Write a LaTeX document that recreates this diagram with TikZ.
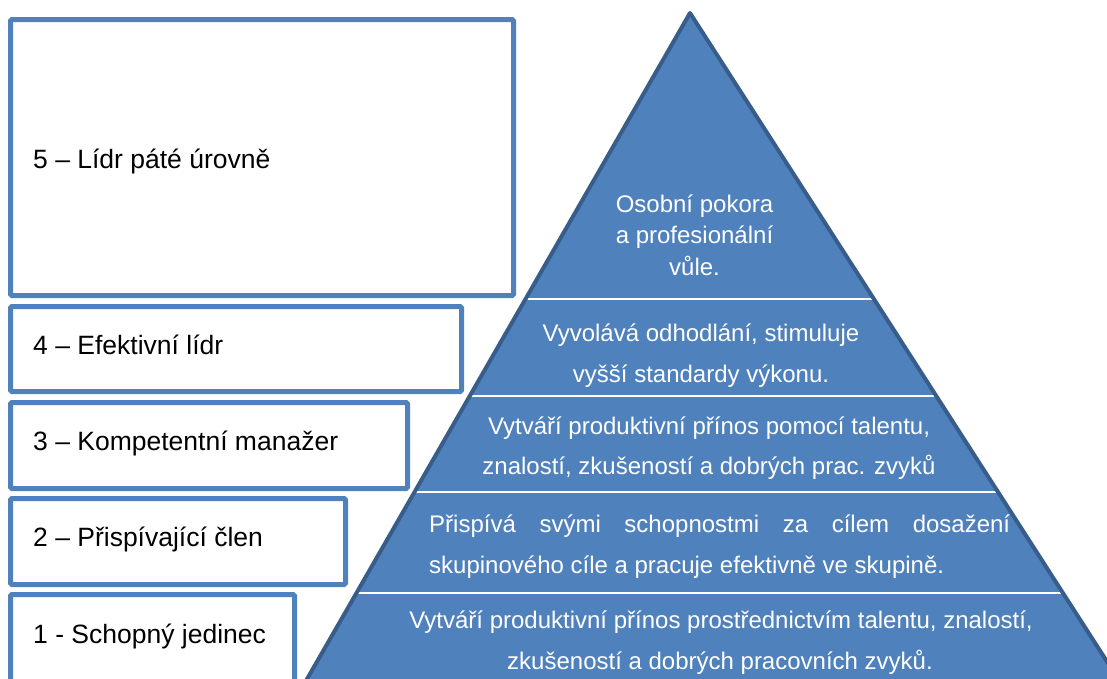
\documentclass[tikz,border=0pt]{standalone}
\usepackage{fontspec}
\setmainfont{Liberation Sans}
\definecolor{boxblue}{HTML}{4F81BD}
\definecolor{pyrblue}{HTML}{4F81BD}
\definecolor{pyrdark}{HTML}{385D8A}
\begin{document}
\begin{tikzpicture}[x=1pt,y=-1pt,
  lvlbox/.style={draw=boxblue, line width=5pt, rounded corners=1.5pt, fill=white},
  lvltext/.style={anchor=base west, inner sep=0pt, font=\fontsize{26.5}{30}\selectfont},
  bandtext/.style={anchor=base, inner sep=0pt, text=white, font=\fontsize{24}{28}\selectfont},
  bandtextl/.style={bandtext, anchor=base west},
  bandline/.style={draw=white, line width=2pt}]
\useasboundingbox (0,0) rectangle (1107,678);
\clip (0,0) rectangle (1107,678);

% pyramid body
\coordinate (apex) at (690,13);
\coordinate (bl) at (300.7,690);
\coordinate (br) at (1125.3,690);
\fill[pyrblue] (apex) -- (br) -- (bl) -- cycle;

% separators between the levels
\coordinate (s4l) at (525.5,299);   \coordinate (s4r) at (874,299);
\coordinate (s3l) at (470.1,395.5); \coordinate (s3r) at (936,395.5);
\coordinate (s2l) at (414.9,491.5); \coordinate (s2r) at (997.7,491.5);
\coordinate (s1l) at (356.5,593);   \coordinate (s1r) at (1063,593);
\draw[bandline] (s4l) -- (s4r);
\draw[bandline] (s3l) -- (s3r);
\draw[bandline] (s2l) -- (s2r);
\draw[bandline] (s1l) -- (s1r);

% pyramid outline
\draw[pyrdark, line width=4pt, line join=round] (bl) -- (apex) -- (br);

% level boxes on the left
\draw[lvlbox] (10.5,19.5) rectangle (513.5,295.5);
\draw[lvlbox] (10.5,306.5) rectangle (461.5,391.5);
\draw[lvlbox] (10.5,402.5) rectangle (407.5,488.5);
\draw[lvlbox] (10.5,498.5) rectangle (345.5,584.5);
\draw[lvlbox] (10.5,594.5) rectangle (294.5,700);

\node[lvltext] (l5) at (33,168) {5 – Lídr páté úrovně};
\node[lvltext] (l4) at (33,354) {4 – Efektivní lídr};
\node[lvltext] (l3) at (33,450) {3 – Kompetentní manažer};
\node[lvltext] (l2) at (33,546) {2 – Přispívající člen};
\node[lvltext] (l1) at (33,643) {1 - Schopný jedinec};

% texts inside the pyramid
\node[bandtext] (p5a) at (694.5,212) {Osobní pokora};
\node[bandtext] (p5b) at (694.5,243.5) {a profesionální};
\node[bandtext] (p5c) at (694.5,275) {vůle.};

\node[bandtext] (p4a) at (701,341) {Vyvolává odhodlání, stimuluje};
\node[bandtext] (p4b) at (701,382) {vyšší standardy výkonu.};

\node[bandtext] (p3a) at (709,434) {Vytváří produktivní přínos pomocí talentu,};
\node[bandtext] (p3b) at (709,474) {znalostí, zkušeností a dobrých prac. zvyků};

\node[bandtextl] (p2a) at (429,532) {\hbox to 581pt{Přispívá\hfil svými\hfil schopnostmi\hfil za\hfil cílem\hfil dosažení}};
\node[bandtextl] (p2b) at (429,573) {skupinového cíle a pracuje efektivně ve skupině.};

\node[bandtext] (p1a) at (721,628) {Vytváří produktivní přínos prostřednictvím talentu, znalostí,};
\node[bandtext] (p1b) at (720,669) {zkušeností a dobrých pracovních zvyků.};
\end{tikzpicture}
\end{document}
